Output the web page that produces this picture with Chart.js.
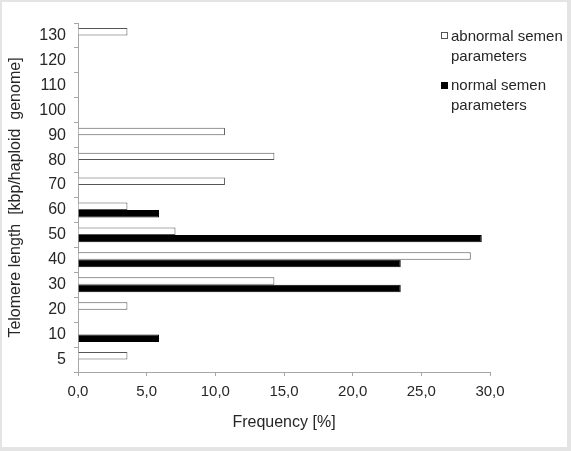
<!DOCTYPE html>
<html>
<head>
<meta charset="utf-8">
<script src="https://cdn.jsdelivr.net/npm/chart.js@4"></script>
<style>
    body { margin: 0; background: #e4e4e4; width: 571px; height: 451px; position: relative; overflow: hidden; }
    #wrap { position: absolute; left: 2px; top: 2px; width: 565px; height: 445px; background: #fff; }
    .legText { position: absolute; left: 451px; font: 15px 'Liberation Sans', Arial, sans-serif; line-height: 20px; color: #262626; }
    .legBox { position: absolute; left: 441px; width: 7px; height: 7px; box-sizing: border-box; }
</style>
</head>
<body>
<div id="wrap"><canvas id="telomereChart" width="565" height="445"></canvas></div>
<div class="legBox" style="top:32px; border:1px solid #555; background:#fff;"></div>
<div class="legText" style="top:26px;">abnormal semen<br>parameters</div>
<div class="legBox" style="top:82px; background:#000;"></div>
<div class="legText" style="top:75px;">normal semen<br>parameters</div>
<script>
// telomere length classes, listed top to bottom
var lengthLabels = ["130", "120", "110", "100", "90", "80", "70", "60", "50", "40", "30", "20", "10", "5"];
var abnormalData = [3.6, null, null, null, 10.7, 14.3, 10.7, 3.6, 7.1, 28.6, 14.3, 3.6, null, 3.6];
var normalData = [null, null, null, null, null, null, null, 5.9, 29.4, 23.5, 23.5, null, 5.9, null];
var freqTicks = [0, 5, 10, 15, 20, 25, 30];

var axisGray = '#a6a6a6';
var textColor = '#262626';
var fontFamily = "'Liberation Sans', Arial, sans-serif";

var telomereChartOptions = {
    type: 'bar',
    data: {
        labels: lengthLabels,
        datasets: [{
            label: 'abnormal semen parameters',
            data: abnormalData,
            backgroundColor: '#ffffff',
            borderColor: '#555555',
            borderWidth: 1,
            categoryPercentage: 0.6,
            barPercentage: 1.0
        }, {
            label: 'normal semen parameters',
            data: normalData,
            backgroundColor: '#000000',
            borderColor: '#000000',
            borderWidth: 1,
            categoryPercentage: 0.6,
            barPercentage: 1.0
        }]
    },
    options: {
        indexAxis: 'y',
        responsive: false,
        animation: false,
        layout: {
            padding: { top: 21, right: 77, left: 0, bottom: 0 }
        },
        plugins: {
            legend: { display: false },
            tooltip: { enabled: false }
        },
        scales: {
            x: {
                min: 0,
                max: 30,
                afterBuildTicks: function(scale) {
                    scale.ticks = freqTicks.map(function(v) { return { value: v }; });
                },
                afterFit: function(scale) { scale.height = 75; },
                grid: { drawOnChartArea: false, tickLength: 4, color: axisGray },
                border: { color: axisGray },
                ticks: {
                    padding: 7,
                    color: textColor,
                    font: { family: fontFamily, size: 15 },
                    callback: function(v) { return v.toFixed(1).replace('.', ','); }
                },
                title: {
                    display: true,
                    text: 'Frequency [%]',
                    color: textColor,
                    font: { family: fontFamily, size: 16 },
                    padding: { top: 0, bottom: 15 }
                }
            },
            y: {
                afterFit: function(scale) { scale.width = 76; },
                grid: { offset: true, drawOnChartArea: false, tickLength: 4, color: axisGray },
                border: { color: axisGray },
                ticks: {
                    padding: 8,
                    color: textColor,
                    font: { family: fontFamily, size: 16 }
                },
                title: {
                    display: true,
                    text: 'Telomere length  [kbp/haploid  genome]',
                    color: textColor,
                    font: { family: fontFamily, size: 16 },
                    padding: { top: 4, bottom: 0 }
                }
            }
        }
    }
};

var canvas = document.getElementById("telomereChart");
var chart = new Chart(canvas, telomereChartOptions);
</script>
</body>
</html>
